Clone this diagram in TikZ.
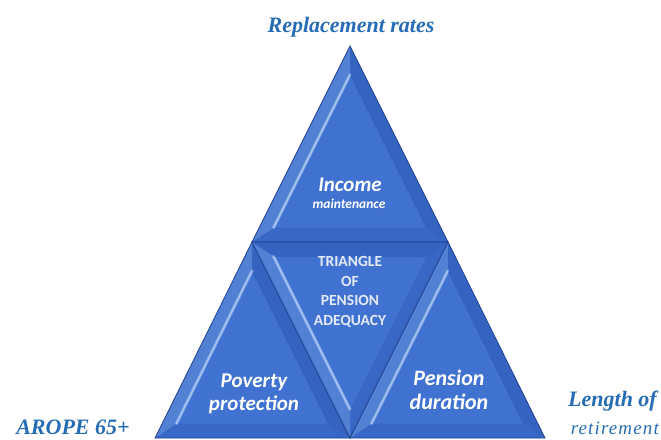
\documentclass[tikz,border=0pt]{standalone}
\usepackage{fontspec}
\setmainfont{Liberation Serif}
\newfontfamily\cali{Carlito}
\newfontfamily\spaced[LetterSpace=6]{Liberation Serif}
\usetikzlibrary{calc}
\definecolor{tri}{RGB}{55,104,200}
\definecolor{triin}{RGB}{64,114,210}
\definecolor{triedge}{RGB}{34,66,145}
\definecolor{hilite}{RGB}{165,200,245}
\definecolor{labblue}{RGB}{38,108,180}
\definecolor{capgray}{RGB}{228,232,244}
\tikzset{
  lab/.style={font=\bfseries\itshape\fontsize{22}{24}\selectfont, text=labblue, inner sep=0pt},
  intext/.style={font=\cali\bfseries\itshape\fontsize{21}{23}\selectfont, text=white, align=center, inner sep=0pt},
  captext/.style={font=\cali\bfseries\fontsize{15.5}{19.5}\selectfont, text=capgray, align=center, inner sep=0pt},
  facetedge/.style={draw=triedge, line width=0.8pt, line join=miter}
}
\newcommand\facet[3]{%
  \coordinate (g) at (barycentric cs:#1=1,#2=1,#3=1);
  \coordinate (i1) at ($(g)!0.78!(#1)$);
  \coordinate (i2) at ($(g)!0.78!(#2)$);
  \coordinate (i3) at ($(g)!0.78!(#3)$);
  \fill[tri] (#1)--(#2)--(#3)--cycle;
  \fill[hilite, opacity=0.25] (#1)--(#2)--(i2)--(i1)--cycle;
  \fill[triedge, opacity=0.12] (#1)--(#3)--(i3)--(i1)--cycle;
  \fill[triin] (i1)--(i2)--(i3)--cycle;
  \draw[hilite, line width=3pt, opacity=0.6, line cap=round] (i1)--(i2);
  \draw[white, line width=1pt, opacity=0.4, line cap=round] (i1)--(i2);
  \draw[triedge, line width=0.8pt, opacity=0.25] (i1)--(i3);
  \draw[facetedge] (#1)--(#2)--(#3)--cycle;
}
\begin{document}
\begin{tikzpicture}[x=1pt,y=-1pt]
\useasboundingbox (0,0) rectangle (661,439);
\coordinate (T) at (350,46);
\coordinate (L) at (155,438);
\coordinate (R) at (545,438);
\coordinate (ML) at (252,242);
\coordinate (MR) at (448,242);
\coordinate (MB) at (350,438);
\facet{T}{ML}{MR}
\facet{ML}{L}{MB}
\facet{ML}{MB}{MR}
\facet{MR}{MB}{R}
\node[lab] (rr) at (351,27) {Replacement rates};
\node[lab] (ar) at (73,427) {AROPE 65+};
\node[lab, anchor=east] (lr1) at (657,401) {Length of};
\node[lab, anchor=east, font=\spaced\itshape\fontsize{19}{22}\selectfont] (lr2) at (659,428) {retirement};
\node[intext] (inc) at (350,185) {Income};
\node[intext, font=\cali\bfseries\itshape\fontsize{13.5}{15}\selectfont] (mnt) at (349,204) {maintenance};
\node[captext] (tpa) at (350,292) {TRIANGLE\\OF\\PENSION\\ADEQUACY};
\node[intext] (pp) at (254,394) {Poverty\\protection};
\node[intext, font=\cali\bfseries\itshape\fontsize{22}{24}\selectfont] (pd) at (449,390) {Pension\\duration};
\end{tikzpicture}
\end{document}
